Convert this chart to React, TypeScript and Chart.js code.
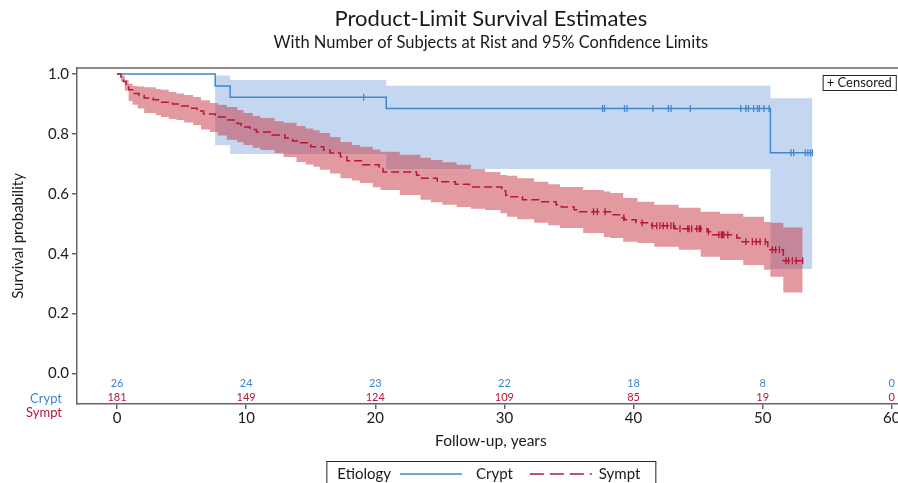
import React, { useEffect, useRef } from 'react';
import { Chart, registerables } from 'chart.js';

Chart.register(...registerables);

const titleText = 'Product-Limit Survival Estimates';
const subtitleText = 'With Number of Subjects at Rist and 95% Confidence Limits';
const xAxisTitle = 'Follow-up, years';
const yAxisTitle = 'Survival probability';
const legendTitle = 'Etiology';
const groupNames = ['Crypt', 'Sympt'];
const censoredLabel = '+ Censored';

const xTicks = [0, 10, 20, 30, 40, 50, 60];
const yTicks = [0, 0.2, 0.4, 0.6, 0.8, 1.0];

const riskTimes = [0, 10, 20, 30, 40, 50, 60];
const cryptAtRisk = [26, 24, 23, 22, 18, 8, 0];
const symptAtRisk = [181, 149, 124, 109, 85, 19, 0];

// Crypt (blue) Kaplan-Meier estimate
const cryptTimes = [0, 7.6, 8.76, 20.85, 50.6, 53.85];
const cryptSurv = [1, 0.96, 0.922, 0.885, 0.737, 0.737];
const cryptUpper = [1, 0.995, 0.98, 0.961, 0.919, 0.919];
const cryptLower = [1, 0.762, 0.733, 0.683, 0.349, 0.349];
const cryptCensored = [19.1, 37.6, 37.75, 39.3, 39.5, 41.5, 42.7, 42.9, 44.4, 48.3, 48.7, 48.9, 49.3, 49.6, 49.75, 50.1, 50.5, 52.2, 52.4, 53.3, 53.5, 53.7, 53.85];

// Sympt (red) Kaplan-Meier estimate
const symptTimes = [0, 0.3, 0.5, 0.7, 0.9, 1.2, 1.7, 2.1, 2.8, 3.3, 4.3, 5.0, 5.5, 6.2, 6.7, 7.6, 8.6, 9.3, 9.6, 10.3, 10.8, 12.0, 13.0, 13.6, 14.2, 15.0, 16.0, 16.5, 17.3, 17.8, 19.0, 20.3, 20.6, 23.2, 23.6, 24.8, 26.2, 27.3, 29.8, 30.1, 30.4, 31.4, 32.8, 34.0, 34.4, 35.4, 35.8, 38.3, 39.0, 39.3, 40.2, 41.4, 43.2, 45.7, 46.1, 48.0, 48.4, 50.4, 51.6, 53.1];
const symptSurv = [1, 0.99, 0.975, 0.96, 0.947, 0.935, 0.928, 0.92, 0.914, 0.906, 0.9, 0.893, 0.886, 0.876, 0.866, 0.856, 0.846, 0.835, 0.823, 0.815, 0.806, 0.796, 0.786, 0.776, 0.77, 0.757, 0.746, 0.736, 0.724, 0.71, 0.697, 0.684, 0.673, 0.662, 0.652, 0.64, 0.632, 0.623, 0.61, 0.595, 0.59, 0.58, 0.573, 0.563, 0.556, 0.547, 0.54, 0.53, 0.52, 0.513, 0.503, 0.493, 0.483, 0.473, 0.463, 0.452, 0.44, 0.413, 0.376, 0.376];
const symptCensored = [36.9, 37.2, 37.8, 39.25, 40.67, 41.45, 41.8, 42.04, 42.3, 42.6, 42.9, 43.1, 43.6, 44.2, 44.3, 44.5, 44.9, 45.1, 45.2, 45.8, 46.6, 46.8, 46.9, 47.0, 47.3, 48.7, 49.2, 49.5, 49.8, 50.2, 50.75, 51.0, 51.3, 51.8, 52.0, 52.3, 52.6, 53.1];

// Sympt 95% confidence band
const symptBandTimes = [0, 0.3, 0.6, 0.9, 1.2, 1.6, 2.1, 3.0, 3.4, 4.0, 4.6, 5.2, 5.9, 6.5, 7.2, 7.8, 8.5, 9.3, 9.8, 10.5, 11.1, 12.2, 12.9, 13.9, 14.6, 15.2, 15.7, 16.5, 17.3, 18.2, 18.8, 19.8, 20.4, 21.9, 23.5, 24.3, 25.2, 26.3, 27.4, 28.5, 29.7, 30.2, 31.0, 32.3, 33.4, 34.3, 36.1, 37.7, 38.2, 39.2, 40.3, 41.6, 43.5, 45.2, 46.7, 48.5, 50.1, 50.6, 51.6, 53.1];
const symptUpper = [1, 0.995, 0.98, 0.967, 0.96, 0.958, 0.956, 0.95, 0.947, 0.94, 0.935, 0.93, 0.923, 0.912, 0.903, 0.897, 0.89, 0.88, 0.87, 0.86, 0.853, 0.842, 0.837, 0.826, 0.818, 0.812, 0.803, 0.79, 0.773, 0.763, 0.757, 0.748, 0.74, 0.73, 0.72, 0.713, 0.705, 0.697, 0.683, 0.673, 0.663, 0.66, 0.652, 0.64, 0.632, 0.623, 0.613, 0.608, 0.603, 0.586, 0.573, 0.563, 0.553, 0.54, 0.533, 0.523, 0.506, 0.503, 0.487, 0.487];
const symptLower = [1, 0.975, 0.945, 0.91, 0.897, 0.885, 0.87, 0.862, 0.856, 0.85, 0.846, 0.838, 0.83, 0.815, 0.806, 0.795, 0.78, 0.772, 0.763, 0.754, 0.746, 0.735, 0.723, 0.706, 0.698, 0.69, 0.68, 0.668, 0.652, 0.644, 0.636, 0.622, 0.613, 0.596, 0.58, 0.572, 0.563, 0.556, 0.55, 0.546, 0.535, 0.523, 0.515, 0.503, 0.495, 0.486, 0.469, 0.456, 0.452, 0.44, 0.436, 0.423, 0.413, 0.39, 0.379, 0.362, 0.346, 0.323, 0.27, 0.27];

const BLUE = '#3f87cf';
const RED = '#b5173a';
const BLUE_BAND = 'rgba(150,180,228,0.55)';
const RED_BAND = 'rgba(200,62,72,0.52)';
const AXIS = '#666666';
const TEXT = '#1a1a1a';
const FONT = 'Lato';

const toPoints = (times: number[], vals: number[]) => times.map((t, i) => ({ x: t, y: vals[i] }));
const survivalAt = (times: number[], vals: number[], t: number) => {
  let v = vals[0];
  for (let i = 0; i < times.length; i++) if (times[i] <= t) v = vals[i];
  return v;
};

const decorPlugin = {
  id: 'decor',
  afterDraw(chart: any) {
    const { ctx, chartArea, scales } = chart;
    const xs = scales.x;
    ctx.save();
    // top frame line
    ctx.strokeStyle = AXIS;
    ctx.lineWidth = 1.5;
    ctx.beginPath();
    ctx.moveTo(chartArea.left, chartArea.top);
    ctx.lineTo(chartArea.right, chartArea.top);
    ctx.stroke();

    // numbers at risk
    ctx.font = `11px ${FONT}`;
    ctx.textAlign = 'center';
    ctx.textBaseline = 'middle';
    riskTimes.forEach((t, i) => {
      const px = xs.getPixelForValue(t);
      ctx.fillStyle = BLUE;
      ctx.fillText(String(cryptAtRisk[i]), px, chartArea.bottom - 21);
      ctx.fillStyle = RED;
      ctx.fillText(String(symptAtRisk[i]), px, chartArea.bottom - 7);
    });
    ctx.font = `13px ${FONT}`;
    ctx.textAlign = 'right';
    ctx.fillStyle = BLUE;
    ctx.fillText(groupNames[0], chartArea.left - 15, chartArea.bottom - 5);
    ctx.fillStyle = RED;
    ctx.fillText(groupNames[1], chartArea.left - 15, chartArea.bottom + 9);

    // censored box (anchored near the last x tick)
    ctx.font = `13px ${FONT}`;
    ctx.textAlign = 'left';
    const cw = ctx.measureText(censoredLabel).width;
    const bw = cw + 8;
    const bx = xs.getPixelForValue(60) + 4 - bw;
    const by = chartArea.top + 7;
    ctx.strokeStyle = '#222';
    ctx.lineWidth = 1;
    ctx.strokeRect(bx + 0.5, by + 0.5, bw, 15);
    ctx.fillStyle = TEXT;
    ctx.fillText(censoredLabel, bx + 4, by + 8);

    // bottom legend
    ctx.font = `15px ${FONT}`;
    const w1 = ctx.measureText(legendTitle).width;
    const w2 = ctx.measureText(groupNames[0]).width;
    const w3 = ctx.measureText(groupNames[1]).width;
    const total = 11 + w1 + 9 + 62 + 14 + w2 + 17 + 62 + 7 + w3 + 15;
    const cx = (chartArea.left + chartArea.right) / 2;
    const L = cx - total / 2;
    const top = chart.height - 22;
    const ty = chart.height - 9;
    ctx.strokeStyle = '#222';
    ctx.lineWidth = 1;
    ctx.strokeRect(L + 0.5, top + 0.5, total, 40);
    ctx.fillStyle = TEXT;
    let p = L + 11;
    ctx.fillText(legendTitle, p, ty);
    p += w1 + 9;
    ctx.strokeStyle = BLUE;
    ctx.lineWidth = 1.5;
    ctx.beginPath();
    ctx.moveTo(p, ty);
    ctx.lineTo(p + 62, ty);
    ctx.stroke();
    p += 62 + 14;
    ctx.fillText(groupNames[0], p, ty);
    p += w2 + 17;
    ctx.strokeStyle = RED;
    ctx.setLineDash([14, 6]);
    ctx.beginPath();
    ctx.moveTo(p, ty);
    ctx.lineTo(p + 62, ty);
    ctx.stroke();
    ctx.setLineDash([]);
    p += 62 + 7;
    ctx.fillText(groupNames[1], p, ty);
    ctx.restore();
  },
};

export default function App() {
  const canvasRef = useRef<HTMLCanvasElement | null>(null);

  useEffect(() => {
    if (!canvasRef.current) return;
    Chart.defaults.font.family = FONT;
    const cryptCens = cryptCensored.map((t) => ({ x: t, y: survivalAt(cryptTimes, cryptSurv, t) }));
    const symptCens = symptCensored.map((t) => ({ x: t, y: survivalAt(symptTimes, symptSurv, t) }));
    const band = { pointRadius: 0, borderWidth: 0, stepped: true as const, showLine: true };
    const chart = new Chart(canvasRef.current, {
      type: 'line',
      data: {
        datasets: [
          { ...band, label: 'Crypt upper', data: toPoints(cryptTimes, cryptUpper), fill: '+1', backgroundColor: BLUE_BAND, borderColor: 'rgba(0,0,0,0)', order: 10 },
          { ...band, label: 'Crypt lower', data: toPoints(cryptTimes, cryptLower), fill: false, borderColor: 'rgba(0,0,0,0)', order: 10 },
          { ...band, label: 'Sympt upper', data: toPoints(symptBandTimes, symptUpper), fill: '+1', backgroundColor: RED_BAND, borderColor: 'rgba(0,0,0,0)', order: 9 },
          { ...band, label: 'Sympt lower', data: toPoints(symptBandTimes, symptLower), fill: false, borderColor: 'rgba(0,0,0,0)', order: 9 },
          { label: 'Crypt', data: toPoints(cryptTimes, cryptSurv), stepped: true, borderColor: BLUE, borderWidth: 1.5, pointRadius: 0, fill: false, order: 2 },
          { label: 'Sympt', data: toPoints(symptTimes, symptSurv), stepped: true, borderColor: RED, borderWidth: 1.5, borderDash: [8, 4], pointRadius: 0, fill: false, order: 1 },
          { label: 'Crypt censored', data: cryptCens, showLine: false, pointStyle: 'line', rotation: 90, pointRadius: 3.5, pointBorderWidth: 1.3, borderColor: BLUE, pointBorderColor: BLUE, order: 0 },
          { label: 'Sympt censored', data: symptCens, showLine: false, pointStyle: 'line', rotation: 90, pointRadius: 3.5, pointBorderWidth: 1.3, borderColor: RED, pointBorderColor: RED, order: 0 },
        ],
      },
      options: {
        animation: false,
        responsive: true,
        maintainAspectRatio: false,
        events: [],
        layout: { padding: 0 },
        plugins: {
          legend: { display: false },
          tooltip: { enabled: false },
          title: {
            display: true,
            text: titleText,
            fullSize: false,
            color: TEXT,
            font: { family: FONT, size: 22, weight: 'normal' },
            padding: { top: 6, bottom: 0 },
          },
          subtitle: {
            display: true,
            text: subtitleText,
            fullSize: false,
            color: TEXT,
            font: { family: FONT, size: 16.5, weight: 'normal' },
            padding: { top: 0, bottom: 15.8 },
          },
        },
        scales: {
          x: {
            type: 'linear',
            min: -3.1,
            max: 61.0,
            afterBuildTicks: (s: any) => { s.ticks = xTicks.map((v) => ({ value: v })); },
            afterFit: (s: any) => { s.height = 79; s.paddingLeft = 0; s.paddingRight = 0; },
            ticks: { color: TEXT, font: { size: 15 }, padding: 0, autoSkip: false, maxRotation: 0, callback: (v: any) => String(v) },
            grid: { display: true, drawOnChartArea: false, drawTicks: true, tickLength: 5, color: AXIS, lineWidth: 1.5 },
            border: { display: true, color: AXIS, width: 1.5 },
            title: { display: true, text: xAxisTitle, color: TEXT, font: { size: 15.5 }, padding: { top: 0, bottom: 33 } },
          },
          y: {
            type: 'linear',
            min: -0.102,
            max: 1.02,
            afterBuildTicks: (s: any) => { s.ticks = yTicks.map((v) => ({ value: v })); },
            afterFit: (s: any) => { s.width = 77; s.paddingTop = 0; s.paddingBottom = 0; },
            ticks: { color: TEXT, font: { size: 15 }, padding: 3, callback: (v: any) => Number(v).toFixed(1) },
            grid: { display: true, drawOnChartArea: false, drawTicks: true, tickLength: 5, color: AXIS, lineWidth: 1.5 },
            border: { display: true, color: AXIS, width: 1.5 },
            title: { display: true, text: yAxisTitle, color: TEXT, font: { size: 15 }, padding: { top: 9, bottom: 0 } },
          },
        },
      },
      plugins: [decorPlugin],
    } as any);
    return () => chart.destroy();
  }, []);

  return (
    <div style={{ position: 'absolute', left: 0, top: 0, width: 898, height: 483, overflow: 'hidden', background: '#fff' }}>
      <div style={{ position: 'relative', width: 910, height: 483 }}>
        <canvas ref={canvasRef} />
      </div>
    </div>
  );
}
